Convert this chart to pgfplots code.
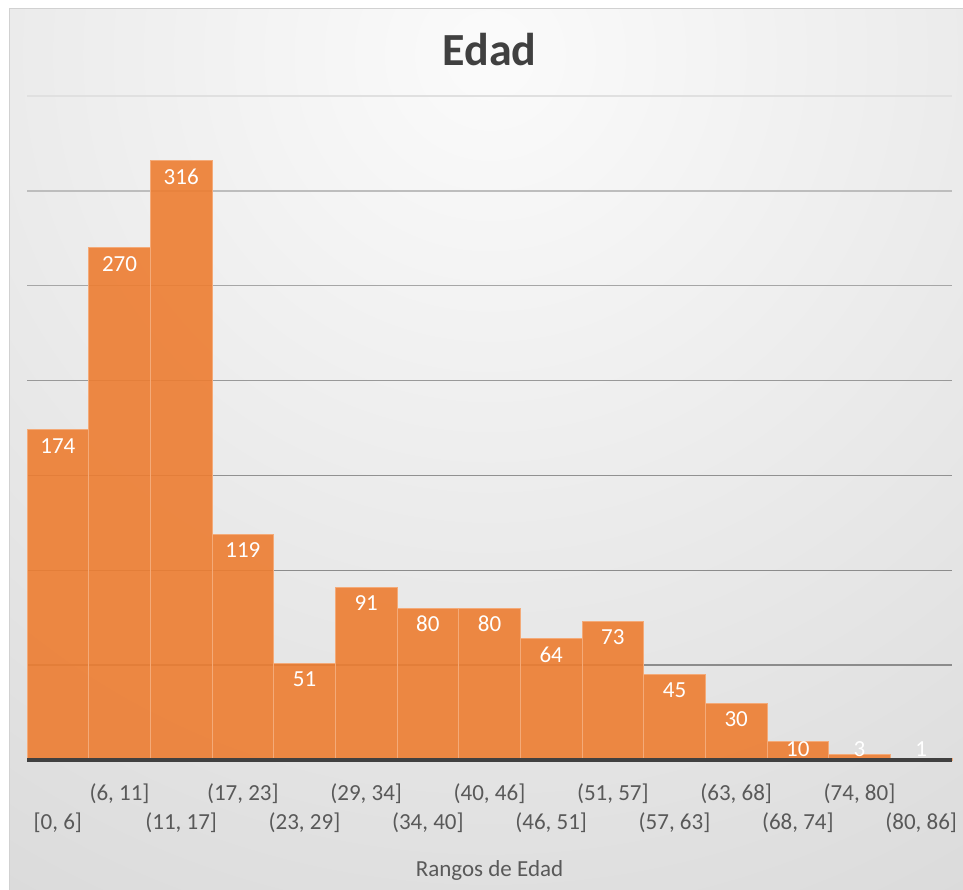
\documentclass[border=0pt]{standalone}
\usepackage{fontspec}
\setmainfont{Carlito}
\usepackage{pgfplots}
\pgfplotsset{compat=1.18}

\definecolor{barorange}{RGB}{237,125,49}
\definecolor{baredge}{RGB}{244,170,120}
\definecolor{titlegray}{RGB}{64,64,64}
\definecolor{labelgray}{RGB}{89,89,89}
\definecolor{basegray}{RGB}{64,64,64}
\definecolor{bgin}{RGB}{251,251,251}
\definecolor{bgout}{RGB}{188,188,188}

\newcommand{\lblfont}{\fontsize{23bp}{28bp}\selectfont}

\begin{document}
\begin{tikzpicture}
\useasboundingbox (0bp,0bp) rectangle (963bp,890bp);
\fill[white] (0bp,0bp) rectangle (963bp,890bp);
\begin{scope}
  \clip (9bp,0bp) rectangle (963bp,881bp);
  \shade[inner color=bgin, outer color=bgout] (490bp,835bp) circle (1900bp);
\end{scope}
\draw[black!18, line width=1bp] (9bp,0bp) -- (9bp,881bp) -- (963bp,881bp);

\begin{axis}[
  at={(27bp,130bp)}, anchor=south west,
  scale only axis,
  width=925bp, height=664bp,
  xmin=-0.5, xmax=14.5, ymin=0, ymax=350,
  axis line style={draw=none},
  major tick length=0pt,
  ytick=\empty,
  xtick={0,2,...,14},
  xticklabels={{[0, 6]},{(11, 17]},{(23, 29]},{(34, 40]},{(46, 51]},{(57, 63]},{(68, 74]},{(80, 86]}},
  extra x ticks={1,3,...,13},
  extra x tick labels={{(6, 11]},{(17, 23]},{(29, 34]},{(40, 46]},{(51, 57]},{(63, 68]},{(74, 80]}},
  extra x tick style={grid=none, x tick label style={yshift=29bp}},
  x tick label style={font=\lblfont, text=labelgray, anchor=base, yshift=-69bp},
  xlabel={Rangos de Edad},
  xlabel style={at={(axis description cs:0.5,0)}, anchor=base, yshift=-116bp, font=\lblfont, text=labelgray},
  title={Edad},
  title style={at={(axis description cs:0.5,1)}, anchor=base, yshift=25bp, font=\fontsize{46bp}{52bp}\selectfont\bfseries, text=titlegray},
  clip=false,
  /pgf/number format/assume math mode=true,
]
% gridlines, lighter towards the top
\addplot[draw=black!45, line width=1.3bp, forget plot] coordinates {(-0.5,50) (14.5,50)};
\addplot[draw=black!45, line width=1.3bp, forget plot] coordinates {(-0.5,100) (14.5,100)};
\addplot[draw=black!43, line width=1.3bp, forget plot] coordinates {(-0.5,150) (14.5,150)};
\addplot[draw=black!40, line width=1.3bp, forget plot] coordinates {(-0.5,200) (14.5,200)};
\addplot[draw=black!35, line width=1.3bp, forget plot] coordinates {(-0.5,250) (14.5,250)};
\addplot[draw=black!26, line width=1.3bp, forget plot] coordinates {(-0.5,300) (14.5,300)};
\addplot[draw=black!12, line width=1.3bp, forget plot] coordinates {(-0.5,350) (14.5,350)};

\addplot[ybar, bar width=1, bar shift=0pt,
  fill=barorange, fill opacity=0.9, draw=baredge, line width=0.8bp,
  nodes near coords,
  visualization depends on={rawy \as \rawy},
  every node near coord/.append style={text=white, fill opacity=1, text opacity=1,
    font=\lblfont, anchor=center, yshift={max(-16,11-1.897*\rawy)}},
] coordinates {
  (0,174) (1,270) (2,316) (3,119) (4,51) (5,91) (6,80) (7,80)
  (8,64) (9,73) (10,45) (11,30) (12,10) (13,3) (14,1)
};

% base line
\addplot[draw=basegray, line width=3bp, forget plot] coordinates {(-0.5,0) (14.5,0)};
\end{axis}
\end{tikzpicture}
\end{document}
